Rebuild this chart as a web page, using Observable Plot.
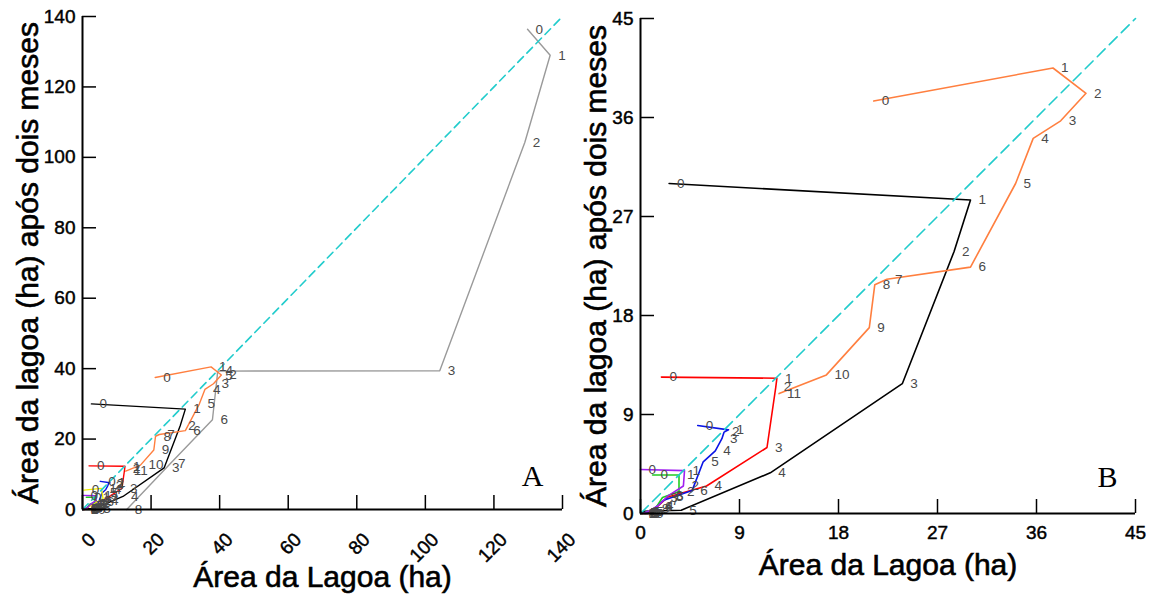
<!DOCTYPE html>
<html><head><meta charset="utf-8">
<script src="https://cdn.jsdelivr.net/npm/d3@7"></script>
<script src="https://cdn.jsdelivr.net/npm/@observablehq/plot@0.6"></script>
<style>
html,body{margin:0;padding:0;background:#fff;width:1156px;height:603px;overflow:hidden}
.pn{position:absolute;top:0}
#a{left:0}
#b{left:580px}
svg{overflow:visible}
g[aria-label="y-axis tick label"] text, g[aria-label="x-axis tick label"] text{stroke:#000;stroke-width:0.45px}
g.ttl text{stroke:#000;stroke-width:0.6px}
</style></head><body>
<div id="a" class="pn"></div><div id="b" class="pn"></div>
<script>
// Lag-plot series: point k = (area[k], area[k+1]), labelled k
const cinza    = [129.8, 136.4, 129.0, 104.2, 39.4, 39.3, 37.9, 25.5, 12.9, 0.0];
const preta    = [2.6, 30.0, 28.5, 23.8, 11.8, 3.7, 0.3, 0.2, 0.1, 0.1, 0.0, 0.0];
const laranja  = [21.2, 37.5, 40.5, 38.2, 35.7, 34.1, 30.0, 22.4, 21.3, 20.8, 16.9, 12.6, 10.9];
const vermelha = [1.9, 12.4, 12.3, 11.5, 6.0, 2.5, 1.5, 0.6, 0.0, 0.0];
const azul     = [5.2, 8.0, 7.6, 7.4, 6.8, 5.7, 4.7, 2.1, 1.2, 0.4, 0.0];
const amarela  = [0.4, 5.5, 6.0, 3.0, 1.5, 0.5, 0.0];
const verde    = [1.1, 3.5, 3.5, 2.0, 1.45, 0.6, 0.15, 0.0];
const roxa     = [0.0, 4.0, 3.9, 2.5, 1.6, 0.7, 0.2, 0.0];

const seriesA = ["cinza","preta","laranja","vermelha","azul","amarela","verde","roxa"];
const seriesB = ["preta","laranja","vermelha","azul","verde","roxa"];
const seriesValues = {cinza, preta, laranja, vermelha, azul, amarela, verde, roxa};
const seriesColors = {cinza:"#9a9a9a", preta:"#000000", laranja:"#ff7f3f", vermelha:"#ff0000",
  azul:"#0a14e6", amarela:"#eeee00", verde:"#22cc22", roxa:"#a020f0"};

const ticksA = [0, 20, 40, 60, 80, 100, 120, 140];
const ticksB = [0, 9, 18, 27, 36, 45];
const diagonalA = [0, 140];
const diagonalB = [0, 45];

const yTitle = "Área da lagoa (ha) após dois meses";
const xTitle = "Área da Lagoa (ha)";

function lagPoints(values){
  return values.slice(0, -1).map((v, i) => ({i, x: v, y: values[i + 1]}));
}

function panel(cfg){
  const innerW = cfg.width - cfg.ml - cfg.mr;
  const innerH = cfg.height - cfg.mt - cfg.mb;
  const marks = [];
  for (const name of cfg.series) {
    marks.push(Plot.line(lagPoints(seriesValues[name]), {x: "x", y: "y", stroke: seriesColors[name], strokeWidth: cfg.sw}));
  }
  marks.push(Plot.line(cfg.diagonal, {x: d => d, y: d => d, stroke: "#22cccc", strokeWidth: 1.6, strokeDasharray: cfg.dash}));
  for (const name of cfg.series) {
    marks.push(Plot.text(lagPoints(seriesValues[name]), {x: "x", y: "y", text: "i", dx: 8, textAnchor: "start", fontSize: 13.5, fill: "#4a4a4a"}));
  }
  marks.push(Plot.ruleY([0], {stroke: "black", strokeWidth: 2}));
  marks.push(Plot.ruleX([0], {stroke: "black", strokeWidth: 2}));
  marks.push(Plot.tickX(cfg.ticks, {x: d => d, insetTop: innerH - 14, stroke: "black", strokeWidth: 1.5}));
  marks.push(Plot.tickY(cfg.ticks, {y: d => d, insetRight: innerW - 14, stroke: "black", strokeWidth: 1.5}));
  marks.push(Plot.axisY({ticks: cfg.ticks, tickSize: 0, tickPadding: 7, fontSize: 19, label: null, tickFormat: d => String(d)}));
  marks.push(Plot.axisX(cfg.xAxis));
  marks.push(Plot.text([yTitle], {frameAnchor: "left", rotate: -90, dx: cfg.ytdx, textAnchor: "middle", lineAnchor: "middle", fontSize: 30, fill: "black", className: "ttl"}));
  marks.push(Plot.text([xTitle], {frameAnchor: "bottom", dy: cfg.xtdy, textAnchor: "middle", lineAnchor: "middle", fontSize: 30, fill: "black", className: "ttl"}));
  marks.push(Plot.text([cfg.letter], {frameAnchor: "bottom-right", dx: cfg.ldx, dy: cfg.ldy, textAnchor: "middle", lineAnchor: "bottom", fontSize: 30, fontFamily: "Liberation Serif, Times New Roman, serif", fill: "black"}));
  return Plot.plot({
    width: cfg.width, height: cfg.height,
    marginLeft: cfg.ml, marginRight: cfg.mr, marginTop: cfg.mt, marginBottom: cfg.mb,
    x: {domain: cfg.domain, axis: null},
    y: {domain: cfg.domain, axis: null},
    style: {fontFamily: "Liberation Sans, Arial, sans-serif", background: "white", overflow: "visible", color: "black"},
    marks
  });
}

document.getElementById("a").append(panel({
  width: 580, height: 603, ml: 82, mr: 18, mt: 16, mb: 94,
  domain: [0, 140], ticks: ticksA, diagonal: diagonalA, series: seriesA, sw: 1.4, dash: "8,5",
  xAxis: {ticks: ticksA, tickSize: 0, tickPadding: 27, tickRotate: -45, fontSize: 19, label: null, dx: 10, tickFormat: d => String(d)},
  ytdx: -54, xtdy: 68, letter: "A", ldx: -30, ldy: -24
}));
document.getElementById("b").append(panel({
  width: 576, height: 603, ml: 60, mr: 21, mt: 18, mb: 90,
  domain: [0, 45], ticks: ticksB, diagonal: diagonalB, series: seriesB, sw: 1.6, dash: "11,6",
  xAxis: {ticks: ticksB, tickSize: 0, tickPadding: 12, fontSize: 19, label: null, tickFormat: d => String(d)},
  ytdx: -44, xtdy: 52, letter: "B", ldx: -28, ldy: -27
}));
</script>
</body></html>
